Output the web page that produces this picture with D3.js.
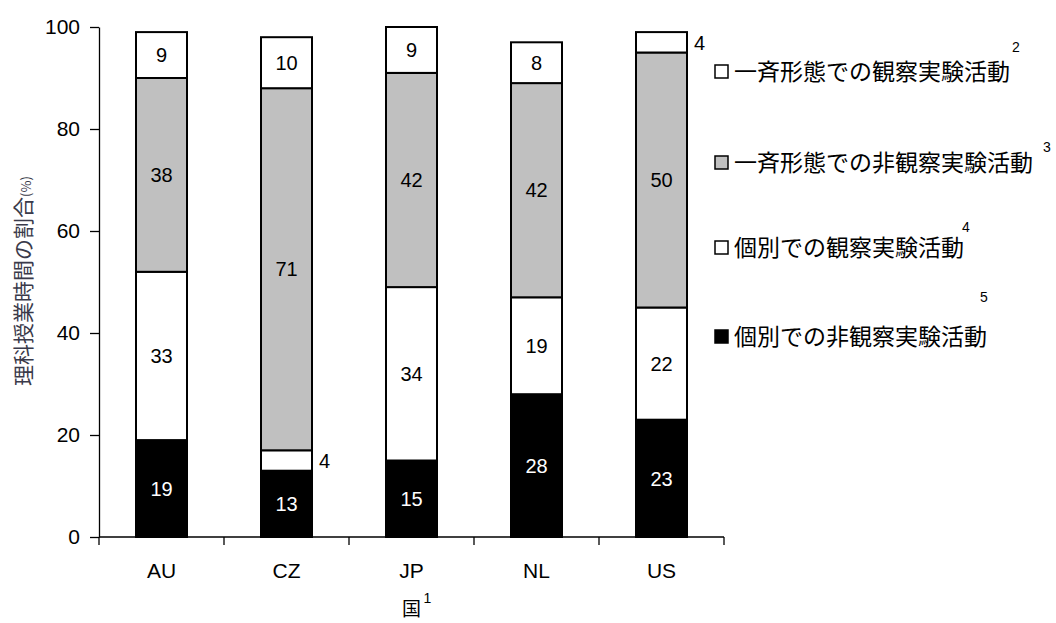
<!DOCTYPE html>
<html><head><meta charset="utf-8">
<script src="https://cdn.jsdelivr.net/npm/d3@7"></script>
<style>body{margin:0;background:#fff}</style>
</head><body><svg id="c" width="1056" height="623"></svg>
<script>
const countries = ["AU","CZ","JP","NL","US"];
const seriesNames = ["個別での非観察実験活動","個別での観察実験活動","一斉形態での非観察実験活動","一斉形態での観察実験活動"];
const individualNonObs = [19,13,15,28,23];
const individualObs = [33,4,34,19,22];
const classNonObs = [38,71,42,42,50];
const classObs = [9,10,9,8,4];
const seriesFootnotes = ["5","4","3","2"];
const yTicks = [0,20,40,60,80,100];
const yTitle = "理科授業時間の割合";
const yTitleUnit = "(%)";
const xTitle = "国";
const xTitleNote = "1";

const fills = ["#000000","#ffffff","#c0c0c0","#ffffff"];
const labelColors = ["#ffffff","#000000","#000000","#000000"];

const svg = d3.select("#c");
const mLeft = 99, mRight = 724, mTop = 27, mBottom = 537;

const x = d3.scaleBand().domain(countries).range([mLeft, mRight]).padding(0);
const y = d3.scaleLinear().domain([0,100]).range([mBottom, mTop]);

const rows = countries.map((c,i)=>({country:c, s0:individualNonObs[i], s1:individualObs[i], s2:classNonObs[i], s3:classObs[i]}));
const stack = d3.stack().keys(["s0","s1","s2","s3"])(rows);

const barW = 51;
const g = svg.append("g");
stack.forEach((layer, li) => {
  g.selectAll(null).data(layer).enter().append("rect")
    .attr("x", d => x(d.data.country) + x.bandwidth()/2 - barW/2)
    .attr("y", d => y(d[1]))
    .attr("width", barW)
    .attr("height", d => y(d[0]) - y(d[1]))
    .attr("fill", fills[li])
    .attr("stroke", "#000")
    .attr("stroke-width", 2);
});
stack.forEach((layer, li) => {
  g.selectAll(null).data(layer).enter().append("text")
    .attr("x", d => {
      const v = d[1]-d[0];
      return v < 6 ? x(d.data.country) + x.bandwidth()/2 + barW/2 + 7 : x(d.data.country) + x.bandwidth()/2;
    })
    .attr("y", d => y((d[0]+d[1])/2))
    .attr("dy", "0.36em")
    .attr("text-anchor", d => (d[1]-d[0]) < 6 ? "start" : "middle")
    .attr("fill", d => (d[1]-d[0]) < 6 ? "#000" : labelColors[li])
    .style("font-family", "'Liberation Sans', Arial, sans-serif")
    .style("font-size", "20px")
    .text(d => d[1]-d[0]);
});

const yAxis = svg.append("g").attr("transform", `translate(${mLeft},0)`)
  .call(d3.axisLeft(y).tickValues(yTicks).tickSize(9).tickSizeOuter(0).tickPadding(10));
yAxis.selectAll("text").style("font-family","'Liberation Sans', Arial, sans-serif").style("font-size","21px").attr("fill","#000");
yAxis.selectAll("line,path").attr("stroke","#000").attr("stroke-width",1.3);

const xg = svg.append("g");
xg.append("line").attr("x1", mLeft).attr("x2", mRight).attr("y1", mBottom).attr("y2", mBottom)
  .attr("stroke","#000").attr("stroke-width",1.3);
const bounds = countries.map(c => x(c)).concat([x(countries[countries.length-1]) + x.bandwidth()]);
xg.selectAll(null).data(bounds).enter().append("line")
  .attr("x1", d=>d).attr("x2", d=>d).attr("y1", mBottom).attr("y2", mBottom+8)
  .attr("stroke","#000").attr("stroke-width",1.3);
xg.selectAll(null).data(countries).enter().append("text")
  .attr("x", d => x(d) + x.bandwidth()/2)
  .attr("y", 570).attr("dy","0.36em")
  .attr("text-anchor","middle")
  .style("font-family","'Liberation Sans', Arial, sans-serif").style("font-size","21px")
  .text(d=>d);

svg.append("text").attr("x", (mLeft+mRight)/2).attr("y", 609).attr("dy","0.36em")
  .attr("text-anchor","middle")
  .style("font-family","'Noto Sans CJK JP', sans-serif").style("font-size","19px").text(xTitle);
svg.append("text").attr("x", (mLeft+mRight)/2 + 12).attr("y", 598).attr("dy","0.36em")
  .style("font-family","'Liberation Sans', Arial, sans-serif").style("font-size","14px").text(xTitleNote);

const yt = svg.append("text").attr("transform","translate(23,281) rotate(-90)")
  .attr("text-anchor","middle").attr("dy","0.36em")
  .attr("fill","#3a3a4a")
  .style("font-family","'Noto Sans CJK JP', sans-serif").style("font-size","21px");
yt.append("tspan").text(yTitle);
yt.append("tspan").style("font-size","13px").text(yTitleUnit);

const legendY = [337, 248, 163, 72];
const supDx = [-7, -2, 10, 2];
const supDy = [40, 21, 16, 25];
const lg = svg.append("g");
seriesNames.forEach((name, i) => {
  const ly = legendY[i];
  lg.append("rect").attr("x", 715).attr("y", ly-7).attr("width", 13).attr("height", 13)
    .attr("fill", fills[i]).attr("stroke","#000").attr("stroke-width",1.5);
  const t = lg.append("text").attr("x", 734).attr("y", ly).attr("dy","0.36em")
    .style("font-family","'Noto Sans CJK JP', sans-serif").style("font-size","23px").text(name);
  const w = t.node().getComputedTextLength();
  lg.append("text").attr("x", 734 + w + supDx[i]).attr("y", ly - supDy[i]).attr("dy","0.36em")
    .style("font-family","'Liberation Sans', Arial, sans-serif").style("font-size","14px").text(seriesFootnotes[i]);
});
</script></body></html>
